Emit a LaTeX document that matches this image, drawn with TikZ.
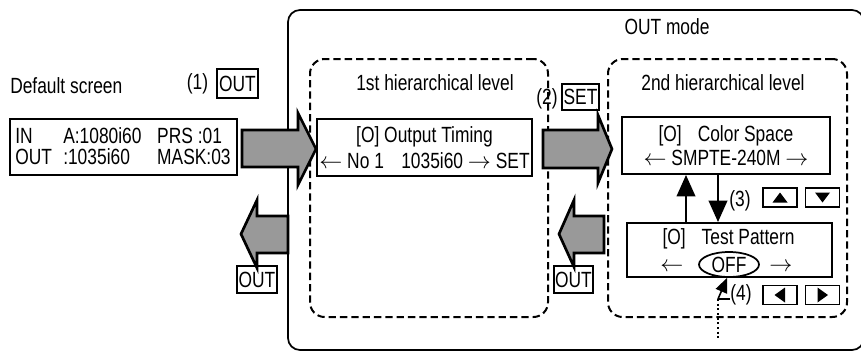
\documentclass[tikz,border=0pt]{standalone}
\usepackage{fontspec}
\setmainfont[FakeStretch=0.79]{Liberation Sans}
\usetikzlibrary{shapes.geometric,arrows.meta}
\definecolor{arrowgray}{RGB}{153,153,153}
\begin{document}
\begin{tikzpicture}[x=0.75pt,y=-0.75pt,
  every node/.style={font=\fontsize{16.5}{18}\selectfont, inner sep=0pt},
  lcd/.style={draw, line width=1.5pt},
  keybox/.style={draw, line width=1.5pt},
  fat/.style={fill=arrowgray, draw, line width=2pt, line join=miter},
  lvl/.style={draw, line width=1.5pt, dash pattern=on 5.5pt off 3pt, rounded corners=11pt},
  btn/.style={draw, line width=1.2pt, minimum width=25.5pt, minimum height=14.25pt},
  vconn/.style={line width=1.2pt, -{Triangle[width=14pt,length=16pt]}},
]
\useasboundingbox (0,0) rectangle (861,351);
\begin{scope}
\clip (0,0) rectangle (861,351);
\draw[line width=1.3pt, rounded corners=9pt] (288,10) rectangle (864,350);
\end{scope}

% level containers
\node[lvl, minimum width=178.5pt, minimum height=193.5pt] (lv1) at (429,188) {};
\node[lvl, minimum width=179.25pt, minimum height=193.5pt] (lv2) at (727.5,188) {};

% titles
\node[anchor=west] (dstitle) at (10,86) {Default screen};
\node (n1) at (197.5,84) {(1)};
\node[keybox, minimum width=30.75pt, minimum height=21.75pt] (k1) at (237.5,83.5) {OUT};
\node (mode) at (667,27) {OUT mode};
\node (lv1t) at (435,83) {1st hierarchical level};
\node (lv2t) at (723,83) {2nd hierarchical level};
\node (n2) at (547,99) {(2)};
\node[keybox, minimum width=27.75pt, minimum height=19.5pt] (k2) at (580.5,96.5) {SET};

% default screen
\node[lcd, minimum width=170.25pt, minimum height=42pt] (def) at (123.5,147) {};
\node[anchor=west, align=left, font=\fontsize{16.5}{15.75}\selectfont] (deftext) at (15,146.5)
  {\makebox[36pt][l]{IN}\makebox[70.5pt][l]{A:1080i60}PRS :01\\
   \makebox[36pt][l]{OUT}\makebox[70.5pt][l]{:1035i60}MASK:03};

% output timing
\node[lcd, minimum width=161.25pt, minimum height=42.75pt, align=center,
      font=\fontsize{16.5}{20}\selectfont] (ot) at (424.5,147.5)
  {[O] Output Timing\\$\leftarrow$ No 1\hspace{13pt}1035i60 $\rightarrow$ SET};

% color space
\node[lcd, minimum width=156pt, minimum height=42.75pt, align=center,
      font=\fontsize{16.5}{18}\selectfont] (cs) at (726,145.5)
  {[O]\hspace{12pt}Color Space\\$\leftarrow$ SMPTE-240M $\rightarrow$};

% test pattern
\node[lcd, minimum width=153.75pt, minimum height=40.5pt] (tp) at (729.5,250) {};
\node (tptitle) at (728.5,238.5) {[O]\hspace{12pt}Test Pattern};
\node (tpl) at (672,267.5) {$\leftarrow$};
\node[draw, ellipse, line width=1.3pt, minimum width=45pt, minimum height=18.75pt] (off) at (729,264.5) {OFF};
\node (tpr) at (781,267.5) {$\rightarrow$};

% OUT keys below
\node[keybox, minimum width=30pt, minimum height=20.25pt] (k3) at (257,279.5) {OUT};
\node[keybox, minimum width=29.25pt, minimum height=20.25pt] (k4) at (573.5,279.5) {OUT};

% fat arrows
\draw[fat] (242,130) -- (298,130) -- (298,113) -- (316,149) -- (298,185) -- (298,167) -- (242,167) -- cycle;
\draw[fat] (543,130) -- (598,130) -- (598,115) -- (612,149) -- (598,183) -- (598,168) -- (543,168) -- cycle;
\draw[fat] (288,216) -- (257,216) -- (257,200) -- (241,234) -- (257,268) -- (257,253) -- (288,253) -- cycle;
\draw[fat] (604,216) -- (574,216) -- (574,200) -- (559,234) -- (574,267) -- (574,253) -- (604,253) -- cycle;

% vertical connectors
\coordinate (upx) at (686,0);
\coordinate (dnx) at (718,0);
\draw[vconn] (tp.north -| upx) -- (cs.south -| upx);
\draw[vconn] (cs.south -| dnx) -- (tp.north -| dnx);

% (3) buttons
\node (n3) at (740,201) {(3)};
\node[btn] (bu) at (780,197.5) {};
\node[btn] (bd) at (822.5,197.5) {};
\fill[shift={(bu)}] (-7.5,5) -- (7.5,5) -- (0,-5) -- cycle;
\fill[shift={(bd)}] (-7.5,-5) -- (7.5,-5) -- (0,5) -- cycle;

% (4) buttons
\node (n4) at (741,295) {(4)};
\node[btn] (bl) at (780,295) {};
\node[btn] (br) at (822.5,295) {};
\fill[shift={(bl)}] (5,-7.5) -- (5,7.5) -- (-5.5,0) -- cycle;
\fill[shift={(br)}] (-5,-7.5) -- (-5,7.5) -- (5.5,0) -- cycle;

\coordinate (p4) at (718,299);
\coordinate (pend) at (718,340);
\draw[line width=1.2pt, -{Triangle[width=9pt,length=11pt]}] (p4) -- (off.262);
\draw[line width=1.2pt] (p4) -- (p4 -| n4.west);
\draw[line width=1.5pt, dotted] (p4) -- (pend);
\end{tikzpicture}
\end{document}
